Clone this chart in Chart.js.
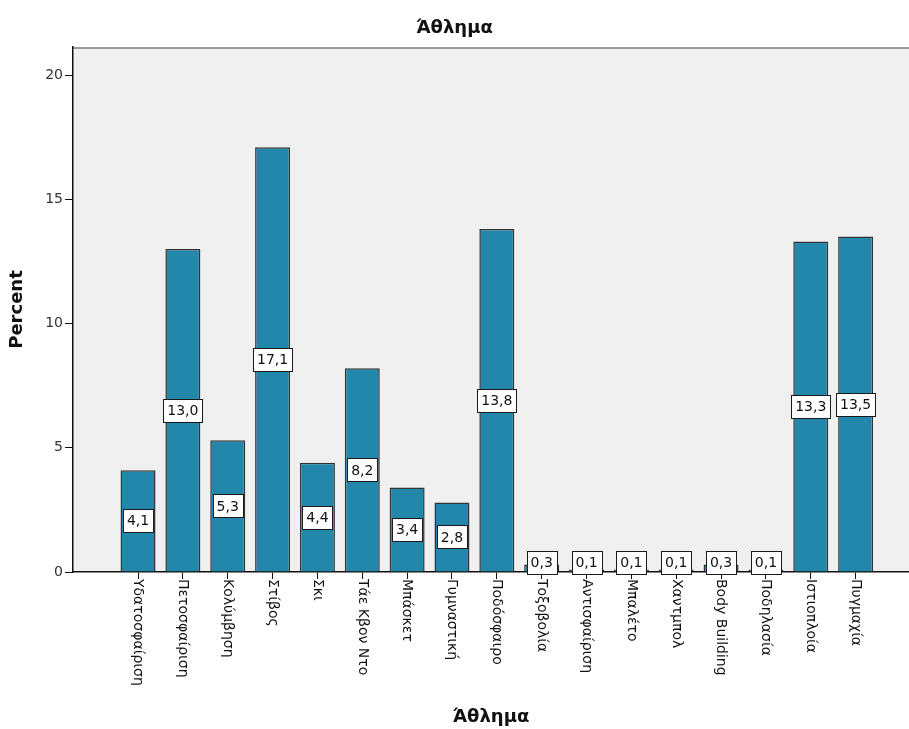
<!DOCTYPE html>
<html>
<head>
<meta charset="utf-8">
<script src="https://cdn.jsdelivr.net/npm/chart.js@4"></script>
<style>
  html, body { margin: 0; padding: 0; background: #ffffff; }
  #wrap { width: 909px; height: 729px; }
</style>
</head>
<body>
<div id="wrap"><canvas id="c" width="909" height="729"></canvas></div>
<script>
// Sports and share of respondents (percent)
const categories = [
  'Υδατοσφαίριση', 'Πετοσφαίριση', 'Κολύμβηση', 'Στίβος', 'Σκι',
  'Τάε Κβον Ντο', 'Μπάσκετ', 'Γυμναστική', 'Ποδόσφαιρο', 'Τοξοβολία',
  'Αντισφαίριση', 'Μπαλέτο', 'Χαντμπολ', 'Body Building', 'Ποδηλασία',
  'Ιστιοπλοία', 'Πυγμαχία'
];
const percentValues = [4.1, 13.0, 5.3, 17.1, 4.4, 8.2, 3.4, 2.8, 13.8, 0.3, 0.1, 0.1, 0.1, 0.3, 0.1, 13.3, 13.5];
const yTickValues = [0, 5, 10, 15, 20];

const FONT = "'DejaVu Sans', 'Liberation Sans', Arial, sans-serif";

// Plot background, top frame line, value boxes and rotated category names
const decorations = {
  id: 'decorations',
  beforeDraw(chart) {
    const { ctx, chartArea: a } = chart;
    ctx.save();
    ctx.fillStyle = '#f0f0f0';
    ctx.fillRect(a.left, a.top, chart.width - a.left, a.bottom - a.top);
    ctx.strokeStyle = '#9a9a9a';
    ctx.lineWidth = 2;
    ctx.beginPath();
    ctx.moveTo(a.left, a.top + 1);
    ctx.lineTo(chart.width, a.top + 1);
    ctx.stroke();
    ctx.restore();
  },
  afterDatasetsDraw(chart) {
    const { ctx } = chart;
    const meta = chart.getDatasetMeta(0);
    const yScale = chart.scales.y;
    const axisY = yScale.getPixelForValue(0);
    ctx.save();
    ctx.font = '14px ' + FONT;
    ctx.textAlign = 'center';
    ctx.textBaseline = 'middle';
    meta.data.forEach((bar, i) => {
      const txt = percentValues[i].toFixed(1).replace('.', ',');
      const w = Math.round(ctx.measureText(txt).width + 8);
      const h = 23;
      let cy = (bar.y + bar.base) / 2;
      cy = Math.min(cy, axisY + 2 - h / 2);
      const x0 = Math.round(bar.x - w / 2) + 0.5;
      const y0 = Math.round(cy - h / 2) + 0.5;
      ctx.fillStyle = '#ffffff';
      ctx.fillRect(x0, y0, w, h);
      ctx.strokeStyle = '#1a1a1a';
      ctx.lineWidth = 1;
      ctx.strokeRect(x0, y0, w, h);
      ctx.fillStyle = '#111111';
      ctx.fillText(txt, bar.x, cy + 1);
    });
    ctx.restore();
  },
  afterDraw(chart) {
    const { ctx } = chart;
    const xScale = chart.scales.x;
    ctx.save();
    ctx.font = '14px ' + FONT;
    ctx.fillStyle = '#111111';
    ctx.textAlign = 'left';
    ctx.textBaseline = 'middle';
    categories.forEach((name, i) => {
      const x = xScale.getPixelForValue(i);
      ctx.save();
      ctx.translate(x, xScale.top + 7);
      ctx.rotate(Math.PI / 2);
      ctx.fillText(name, 0, 0);
      ctx.restore();
    });
    ctx.restore();
  }
};

new Chart(document.getElementById('c'), {
  type: 'bar',
  data: {
    datasets: [{
      data: percentValues.map((v, i) => ({ x: i, y: v })),
      backgroundColor: '#2387ab',
      borderColor: '#333333',
      borderWidth: 1.5,
      categoryPercentage: 1,
      barPercentage: 0.78
    }]
  },
  options: {
    responsive: false,
    animation: false,
    layout: { padding: { top: 0, right: 0, bottom: 0, left: 0 } },
    plugins: {
      legend: { display: false },
      tooltip: { enabled: false },
      title: {
        display: true,
        text: 'Άθλημα',
        color: '#111111',
        font: { family: FONT, size: 18, weight: 'bold', lineHeight: 1.2 },
        padding: { top: 18, bottom: 7.4 }
      }
    },
    scales: {
      x: {
        type: 'linear',
        min: -1.45,
        max: 17.19,
        offset: false,
        afterBuildTicks(scale) { scale.ticks = categories.map((_, i) => ({ value: i })); },
        afterFit(scale) { scale.height = 157; },
        ticks: { display: false },
        grid: { offset: false, drawOnChartArea: false, drawTicks: true, tickLength: 7, color: '#111111', lineWidth: 1 },
        border: { display: true, color: '#111111', width: 1.5 },
        title: {
          display: true,
          text: 'Άθλημα',
          color: '#111111',
          font: { family: FONT, size: 18, weight: 'bold', lineHeight: 1.2 },
          padding: { top: 0, bottom: 1 }
        }
      },
      y: {
        min: 0,
        max: 21.13,
        afterBuildTicks(scale) { scale.ticks = yTickValues.map(v => ({ value: v })); },
        afterFit(scale) { scale.width = 73; },
        ticks: { color: '#333333', font: { family: FONT, size: 14 }, padding: 2 },
        grid: { drawOnChartArea: false, drawTicks: true, tickLength: 8, color: '#111111', lineWidth: 1 },
        border: { display: true, color: '#111111', width: 1.5 },
        title: {
          display: true,
          text: 'Percent',
          color: '#111111',
          font: { family: FONT, size: 18, weight: 'bold', lineHeight: 1.2 },
          padding: { top: 7, bottom: 0 }
        }
      }
    }
  },
  plugins: [decorations]
});
</script>
</body>
</html>
